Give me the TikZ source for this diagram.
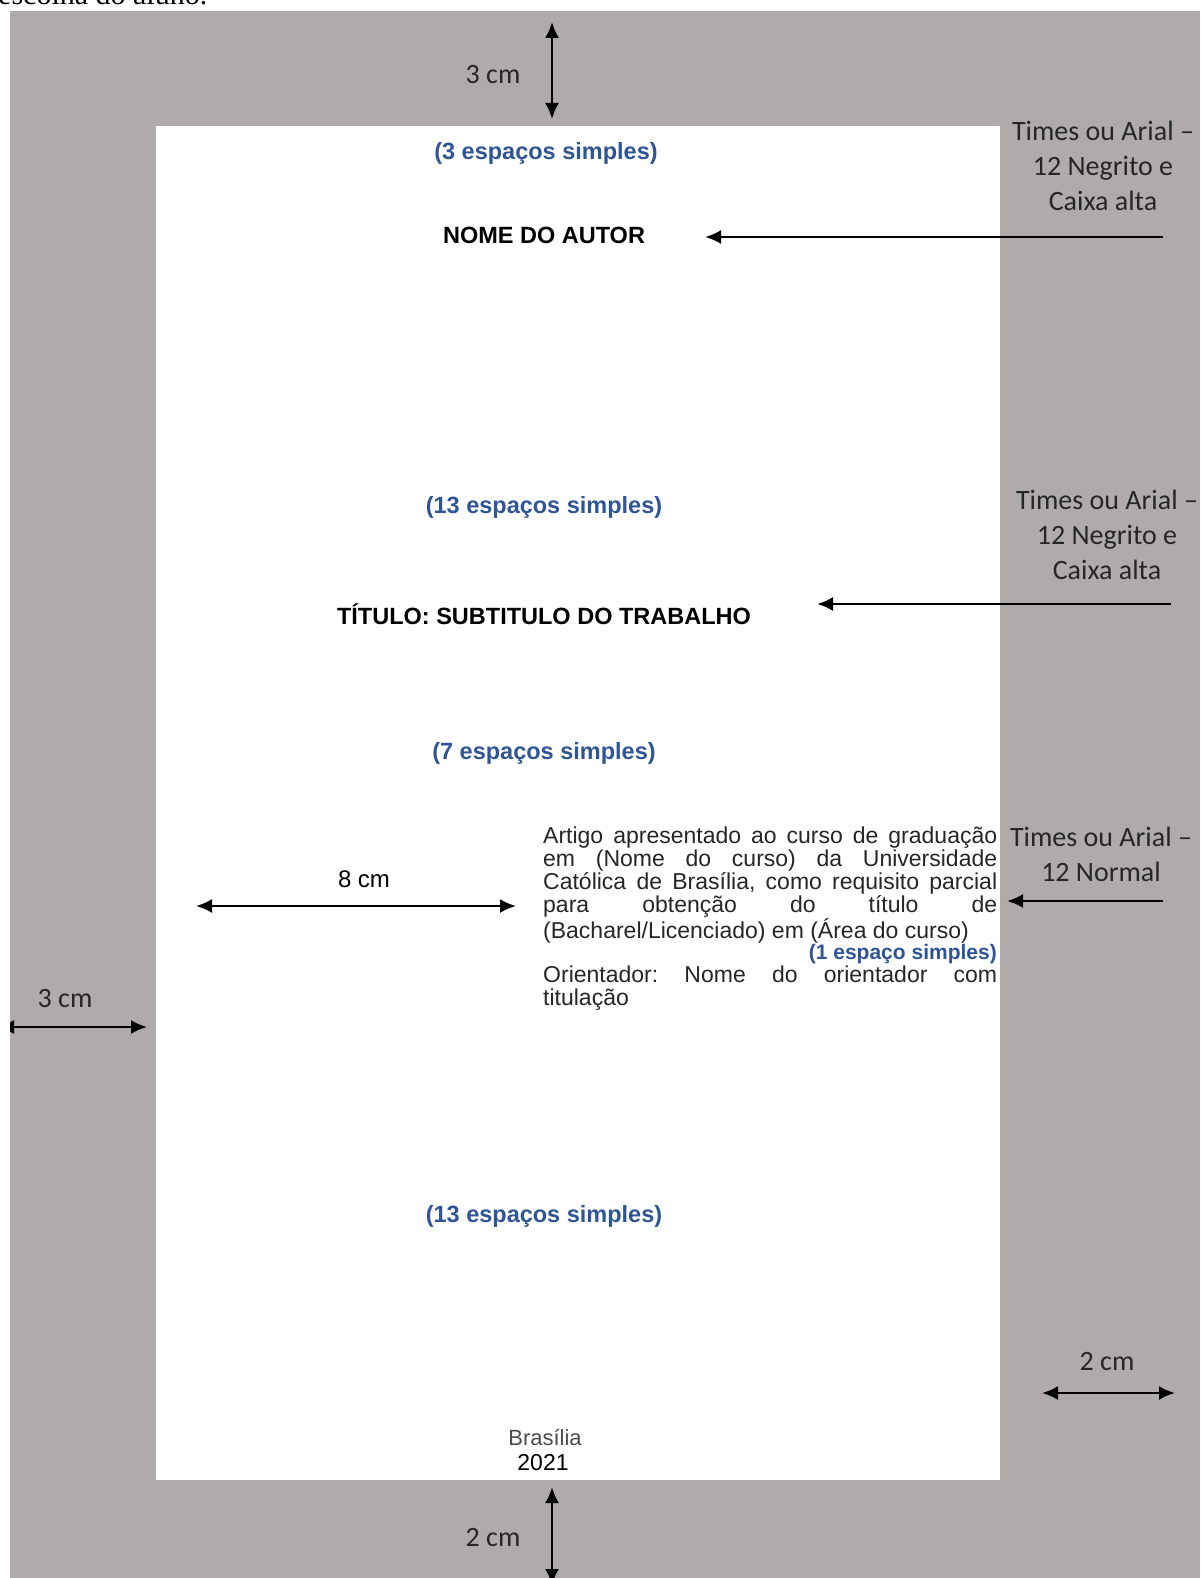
\documentclass[tikz,border=0pt]{standalone}
\usepackage{fontspec}
\setmainfont{Liberation Sans}
\newfontfamily\notefont{Carlito}
\newfontfamily\introfont{Liberation Serif}
\usetikzlibrary{positioning,arrows.meta}
\definecolor{margem}{RGB}{175,171,171}
\definecolor{espaco}{RGB}{47,85,151}
\frenchspacing

\begin{document}
\begin{tikzpicture}[x=1pt,y=-1pt,
        every node/.style={inner sep=0pt},
        cota/.style={{Latex[length=16pt,width=14pt]}-{Latex[length=16pt,width=14pt]}, line width=2.4pt},
        seta/.style={-{Latex[length=16pt,width=14pt]}, line width=2.4pt},
        nota/.style={font=\notefont\fontsize{28}{35}\selectfont, align=center, text=black!85},
        medida/.style={font=\notefont\fontsize{28}{30}\selectfont, text=black!85},
        espacos/.style={font=\bfseries\fontsize{23.5}{26}\selectfont, text=espaco},
        titulo/.style={font=\bfseries\fontsize{23.5}{26}\selectfont},
        corpo/.style={font=\fontsize{23}{23.2}\selectfont, text width=454pt, align=justify, text=black!85}
    ]
    \useasboundingbox (0,0) rectangle (1200,1578);
    \clip (0,0) rectangle (1200,1578);
    \node[anchor=base west, font=\introfont\fontsize{30}{30}\selectfont] (intro) at (-2,5) {escolha do aluno.};
    % folha
    \fill[margem] (10,11) rectangle (1200,1578);
    \fill[white] (156,126) rectangle (1000,1480);

    % margem superior
    \coordinate (supA) at (552,22);
    \coordinate (supB) at (552,119);
    \draw[cota] (supA) -- (supB);
    \node[medida] (sup) at (493,75) {3 cm};

    \node[espacos] (esp3) at (546,153) {(3 espaços simples)};
    \node[titulo] (autor) at (544,235) {NOME DO AUTOR};
    \node[nota] (nota1) at (1103,166) {Times ou Arial –\\12 Negrito e\\Caixa alta};
    \coordinate (n1) at (1163,237);
    \coordinate (a1) at (705,237);
    \draw[seta] (n1) -- (a1);

    \node[espacos] (esp13a) at (544,507) {(13 espaços simples)};
    \node[titulo] (titulo) at (544,614) {TÍTULO: SUBTITULO DO TRABALHO};
    \node[nota] (nota2) at (1107,535) {Times ou Arial –\\12 Negrito e\\Caixa alta};
    \coordinate (n2) at (1171,604);
    \coordinate (a2) at (817,604);
    \draw[seta] (n2) -- (a2);

    \node[espacos] (esp7) at (544,753) {(7 espaços simples)};

    % natureza do trabalho
    \node[corpo, anchor=base west] (artigo) at (543,843) {Artigo apresentado ao curso de graduação\linebreak em (Nome do curso) da Universidade\linebreak Católica de Brasília, como requisito parcial\linebreak para obtenção do título de\linebreak (Bacharel/Licenciado) em (Área do curso)};
    \node[anchor=base east, font=\bfseries\fontsize{21}{23}\selectfont, text=espaco] (esp1) at (997,959) {(1 espaço simples)};
    \node[corpo, anchor=base west] (orient) at (543,982) {Orientador: Nome do orientador com\linebreak titulação};
    \node[nota] (nota3) at (1101,854) {Times ou Arial –\\12 Normal};
    \coordinate (n3) at (1163,901);
    \coordinate (a3) at (1007,901);
    \draw[seta] (n3) -- (a3);

    \node[font=\fontsize{24}{26}\selectfont] (oito) at (364,879) {8 cm};
    \coordinate (oitoA) at (196,906);
    \coordinate (oitoB) at (516,906);
    \draw[cota] (oitoA) -- (oitoB);

    % margem esquerda
    \node[medida] (esq) at (65,998) {3 cm};
    \coordinate (esqA) at (-2,1027);
    \coordinate (esqB) at (147,1027);
    \begin{scope}
        \clip (10,11) rectangle (1200,1578);
        \draw[cota] (esqA) -- (esqB);
    \end{scope}

    \node[espacos] (esp13b) at (544,1216) {(13 espaços simples)};

    % margem direita
    \node[medida] (dir) at (1107,1361) {2 cm};
    \coordinate (dirA) at (1042,1393);
    \coordinate (dirB) at (1175,1393);
    \draw[cota] (dirA) -- (dirB);

    \node[font=\fontsize{22}{24}\selectfont, text=black!70] (local) at (545,1437) {Brasília};
    \node[font=\fontsize{23}{24}\selectfont] (ano) at (543,1463) {2021};

    % margem inferior
    \node[medida] (inf) at (493,1537) {2 cm};
    \coordinate (infA) at (552,1487);
    \coordinate (infB) at (552,1585);
    \draw[cota] (infA) -- (infB);
\end{tikzpicture}
\end{document}
